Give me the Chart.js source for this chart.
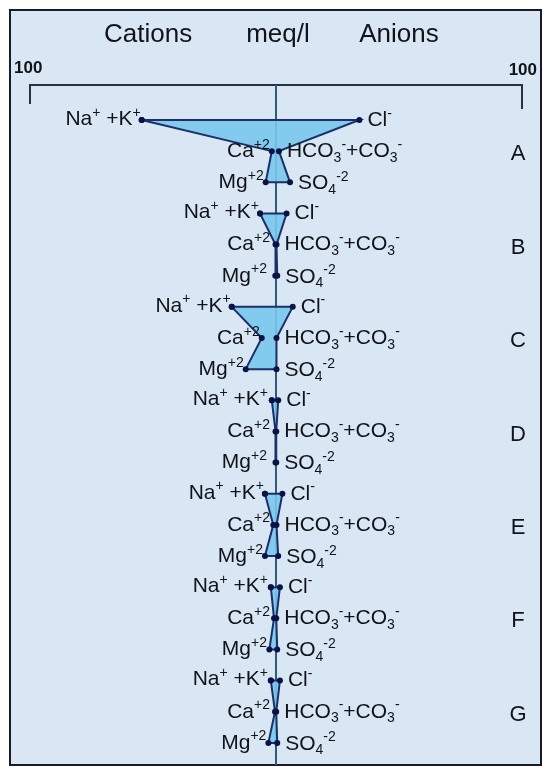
<!DOCTYPE html>
<html>
<head>
<meta charset="utf-8">
<script src="https://cdn.jsdelivr.net/npm/chart.js@4/dist/chart.umd.min.js"></script>
<style>
  html, body { margin: 0; padding: 0; background: #ffffff; }
  canvas { display: block; }
</style>
</head>
<body>
<canvas id="c" width="550" height="777"></canvas>
<script>
// ---- data (meq/l) ----
const groups = ['A', 'B', 'C', 'D', 'E', 'F', 'G'];
const naK  = [54.6, 6.5, 18.0, 1.7, 4.5, 2.1, 2.1];
const ca   = [1.7, 0.2, 5.8, 0.2, 1.1, 0.8, 0.4];
const mg   = [4.2, 0.3, 12.3, 0.2, 4.5, 2.7, 3.1];
const cl   = [33.9, 4.3, 6.8, 0.9, 2.6, 1.6, 1.6];
const hco3 = [1.2, 0.2, 0.2, 0.1, 0.2, 0.1, 0.1];
const so4  = [5.7, 0.5, 0.2, 0.1, 0.9, 0.5, 0.5];
const scaleTicks = ['100', '100'];
const headerTexts = ['Cations', 'meq/l', 'Anions'];

// ion labels (rich text parts: [text, mode]; 1 = superscript, -1 = subscript)
const lblNaK  = [['Na', 0], ['+', 1], [' +K', 0], ['+', 1]];
const lblCa   = [['Ca', 0], ['+2', 1]];
const lblMg   = [['Mg', 0], ['+2', 1]];
const lblCl   = [['Cl', 0], ['-', 1]];
const lblHCO3 = [['HCO', 0], ['3', -1], ['-', 1], ['+CO', 0], ['3', -1], ['-', 1]];
const lblSO4  = [['SO', 0], ['4', -1], ['-2', 1]];

const FONT = '"Liberation Sans", Arial, sans-serif';

function richWidth(ctx, parts, bs, ss) {
  let w = 0;
  for (const [t, m] of parts) {
    ctx.font = (m === 0 ? bs : ss) + 'px ' + FONT;
    w += ctx.measureText(t).width;
  }
  return w;
}
function drawRich(ctx, parts, x, y, align, bs, ss) {
  const w = richWidth(ctx, parts, bs, ss);
  let cx = align === 'right' ? x - w : x;
  ctx.textBaseline = 'middle';
  ctx.textAlign = 'left';
  for (const [t, m] of parts) {
    ctx.font = (m === 0 ? bs : ss) + 'px ' + FONT;
    let dy = 0;
    if (m === 1) dy = -bs * 0.3;
    if (m === -1) dy = bs * 0.32;
    ctx.fillText(t, cx, y + dy);
    cx += ctx.measureText(t).width;
  }
}

const datasets = groups.map((g, i) => {
  const r = i * 3;
  return {
    label: g,
    data: [
      { x: -naK[i], y: r },
      { x: cl[i], y: r },
      { x: hco3[i], y: r + 1 },
      { x: so4[i], y: r + 2 },
      { x: -mg[i], y: r + 2 },
      { x: -ca[i], y: r + 1 },
      { x: -naK[i], y: r }
    ],
    showLine: true,
    tension: 0,
    fill: 'shape',
    backgroundColor: 'rgba(120, 200, 238, 0.9)',
    borderColor: '#1c2f66',
    borderWidth: 2,
    pointRadius: 3,
    pointBackgroundColor: '#0b1245',
    pointBorderColor: '#0b1245',
    pointBorderWidth: 0
  };
});

const framePlugin = {
  id: 'frame',
  beforeDraw(chart) {
    const ctx = chart.ctx;
    ctx.save();
    ctx.fillStyle = '#ffffff';
    ctx.fillRect(0, 0, chart.width, chart.height);
    ctx.fillStyle = '#d9e7f4';
    ctx.fillRect(10, 10, 531, 755);
    ctx.strokeStyle = '#161a2c';
    ctx.lineWidth = 2;
    ctx.strokeRect(10, 10, 531, 755);
    ctx.restore();
  },
  beforeDatasetsDraw(chart) {
    const ctx = chart.ctx;
    const xs = chart.scales.x;
    const xl = xs.getPixelForValue(-100), xr = xs.getPixelForValue(100), xc = xs.getPixelForValue(0);
    const top = chart.chartArea.top;
    ctx.save();
    ctx.strokeStyle = '#26323f';
    ctx.lineWidth = 2;
    ctx.beginPath();
    ctx.moveTo(xl, top + 19);
    ctx.lineTo(xl, top);
    ctx.lineTo(xr, top);
    ctx.lineTo(xr, top + 24);
    ctx.stroke();
    ctx.strokeStyle = '#2e5a7c';
    ctx.lineWidth = 2;
    ctx.beginPath();
    ctx.moveTo(xc, top);
    ctx.lineTo(xc, chart.chartArea.bottom);
    ctx.stroke();
    ctx.restore();
  },
  afterDatasetsDraw(chart) {
    const ctx = chart.ctx;
    const xs = chart.scales.x, ys = chart.scales.y;
    const xc = xs.getPixelForValue(0);
    ctx.save();
    ctx.fillStyle = '#111318';
    ctx.textBaseline = 'middle';
    ctx.textAlign = 'center';
    ctx.font = '26px ' + FONT;
    ctx.fillText(headerTexts[0], xs.getPixelForValue(-52), 35);
    ctx.fillText(headerTexts[1], xc + 2, 35);
    ctx.fillText(headerTexts[2], xs.getPixelForValue(50), 35);
    ctx.font = 'bold 17px ' + FONT;
    ctx.textAlign = 'left';
    ctx.fillText(scaleTicks[0], 14, 68);
    ctx.textAlign = 'right';
    ctx.fillText(scaleTicks[1], 537, 70);
    const bs = 21, ss = 14;
    groups.forEach((g, i) => {
      const r = i * 3;
      const y0 = ys.getPixelForValue(r), y1 = ys.getPixelForValue(r + 1), y2 = ys.getPixelForValue(r + 2);
      const pNa = xs.getPixelForValue(-naK[i]);
      const pCa = xs.getPixelForValue(-ca[i]);
      const pMg = xs.getPixelForValue(-mg[i]);
      const pCl = xs.getPixelForValue(cl[i]);
      const pHc = xs.getPixelForValue(hco3[i]);
      const pSo = xs.getPixelForValue(so4[i]);
      drawRich(ctx, lblNaK, Math.min(pNa - 1, xc - 8), y0 - 1, 'right', bs, ss);
      drawRich(ctx, lblCa, Math.min(pCa - 2, xc - 6), y1, 'right', bs, ss);
      drawRich(ctx, lblMg, Math.min(pMg - 2, xc - 9), y2, 'right', bs, ss);
      drawRich(ctx, lblCl, Math.max(pCl + 8, xc + 7), y0, 'left', bs, ss);
      drawRich(ctx, lblHCO3, Math.max(pHc + 8, xc + 8), y1, 'left', bs, ss);
      drawRich(ctx, lblSO4, Math.max(pSo + 8, xc + 8), y2 + 1, 'left', bs, ss);
      ctx.font = '22px ' + FONT;
      ctx.textAlign = 'center';
      ctx.textBaseline = 'middle';
      ctx.fillText(g, 518, y1 + 3);
    });
    ctx.restore();
  }
};

new Chart(document.getElementById('c'), {
  type: 'scatter',
  data: { datasets },
  options: {
    responsive: false,
    animation: false,
    devicePixelRatio: 1,
    layout: { padding: { left: 30, right: 28, top: 85, bottom: 12 } },
    plugins: { legend: { display: false }, tooltip: { enabled: false } },
    scales: {
      x: { type: 'linear', min: -100, max: 100, display: false },
      y: { type: 'linear', min: -1.124, max: 20.71, reverse: true, display: false }
    }
  },
  plugins: [framePlugin]
});
</script>
</body>
</html>
